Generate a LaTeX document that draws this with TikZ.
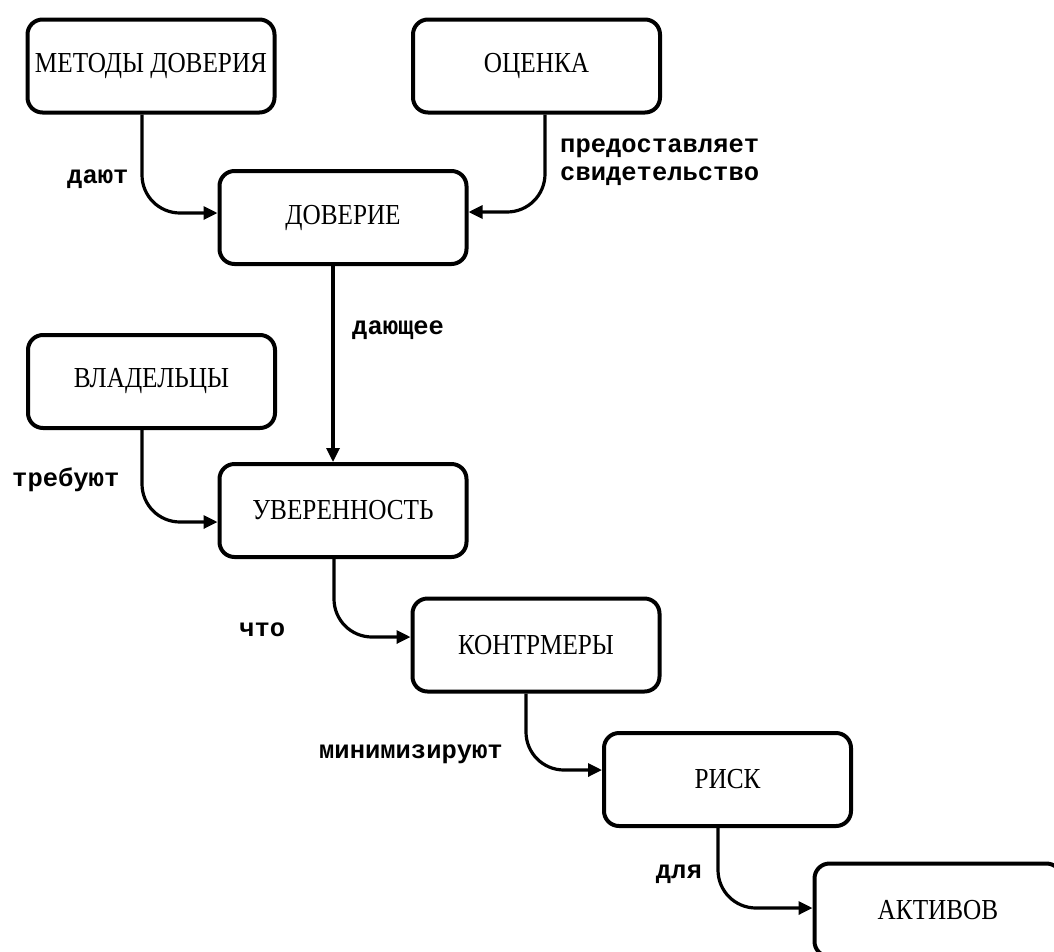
\documentclass[tikz,border=0pt]{standalone}
\usepackage{fontspec}
\setmainfont{Liberation Serif}
\newfontfamily\boxfont{Liberation Serif}[FakeStretch=0.87]
\newfontfamily\monob{Liberation Mono}
\usetikzlibrary{arrows.meta}
\begin{document}
\begin{tikzpicture}[x=1pt,y=-1pt,
  blk/.style={draw, line width=4pt, rounded corners=15pt, minimum width=247pt,
    minimum height=93pt, inner sep=0pt, font=\boxfont\fontsize{29}{32}\selectfont},
  conn/.style={line width=3.2pt, -{Triangle[length=14pt,width=13pt]}, rounded corners=38pt},
  lbl/.style={font=\monob\bfseries\fontsize{25.5}{28}\selectfont, inner sep=0pt}]
\useasboundingbox (0,0) rectangle (1054,951);
\clip (0,0) rectangle (1054,951);

\node[blk] (m) at (151,66) {МЕТОДЫ ДОВЕРИЯ};
\node[blk] (o) at (536.5,66) {ОЦЕНКА};
\node[blk] (d) at (343,217.5) {ДОВЕРИЕ};
\node[blk] (v) at (151.5,381.5) {ВЛАДЕЛЬЦЫ};
\node[blk] (u) at (343,510.5) {УВЕРЕННОСТЬ};
\node[blk] (k) at (536,645) {КОНТРМЕРЫ};
\node[blk] (r) at (727.5,779.5) {РИСК};
\node[blk] (a) at (938,910) {АКТИВОВ};

\draw[conn] ([xshift=-9pt]m.south) |- ([yshift=4.5pt]d.west);
\draw[conn] ([xshift=8.5pt]o.south) |- ([yshift=5.5pt]d.east);
\draw[conn] ([xshift=-10pt]d.south) -- ([xshift=-10pt]u.north);
\draw[conn] ([xshift=-9.5pt]v.south) |- ([yshift=-11.5pt]u.west);
\draw[conn] ([xshift=-9pt]u.south) |- ([yshift=8pt]k.west);
\draw[conn] ([xshift=-10pt]k.south) |- ([yshift=9.5pt]r.west);
\draw[conn] ([xshift=-9.5pt]r.south) |- ([yshift=2pt]a.west);

\node[lbl, anchor=base west] (l1) at (67,183) {дают};
\node[lbl, anchor=west, align=left] (l2) at (560,162) {предоставляет\\свидетельство};
\node[lbl, anchor=base west] (l3) at (352,334) {дающее};
\node[lbl, anchor=base west] (l4) at (12,486) {требуют};
\node[lbl, anchor=base west] (l5) at (239,636) {что};
\node[lbl, anchor=base east] (l6) at (503,758) {минимизируют};
\node[lbl, anchor=base east] (l7) at (702,878) {для};
\end{tikzpicture}
\end{document}
